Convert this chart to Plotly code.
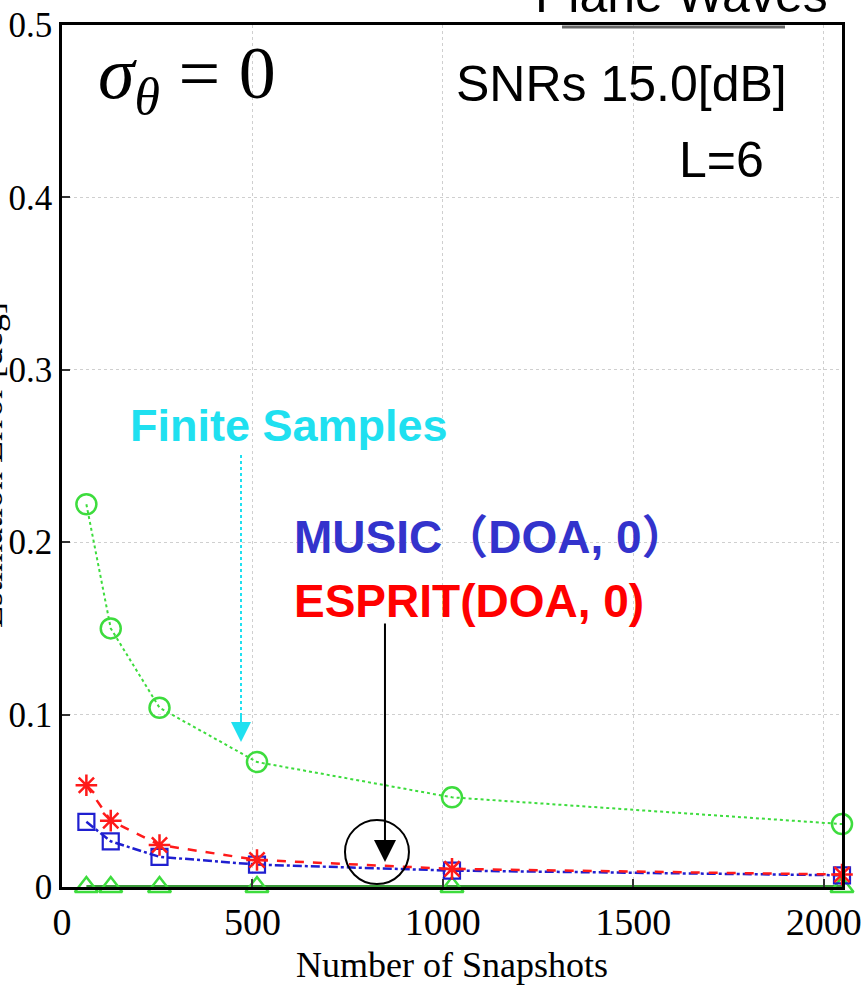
import plotly.graph_objects as go

# Number of snapshots on the x axis
snapshots = [64, 128, 256, 512, 1024, 2048]

# Estimation error per method
finite_samples = [0.222, 0.150, 0.104, 0.0725, 0.052, 0.0365]
esprit_doa = [0.059, 0.0385, 0.0244, 0.0157, 0.0105, 0.0072]
music_doa = [0.0378, 0.0265, 0.0175, 0.0130, 0.0095, 0.0068]
exact_zero = [0, 0, 0, 0, 0, 0]

x_ticks = [0, 500, 1000, 1500, 2000]
y_ticks = [0, 0.1, 0.2, 0.3, 0.4, 0.5]
y_tick_text = ["0", "0.1", "0.2", "0.3", "0.4", "0.5"]

LIME = "#3ddc3d"
BLUE = "#1f1fd0"
RED = "#ff1a1a"
CYAN = "#1fe0f0"

fig = go.Figure()

fig.add_trace(go.Scatter(
    x=snapshots, y=exact_zero, mode="lines+markers",
    line=dict(color="#3a9a3a", width=4, dash="solid"),
    marker=dict(symbol="triangle-up-open", size=20, color=LIME,
                line=dict(width=2.5, color=LIME)),
    cliponaxis=False, showlegend=False))

fig.add_trace(go.Scatter(
    x=snapshots, y=finite_samples, mode="lines+markers",
    line=dict(color=LIME, width=2, dash="dot"),
    marker=dict(symbol="circle-open", size=20, color=LIME,
                line=dict(width=2.5, color=LIME)),
    cliponaxis=False, showlegend=False))

fig.add_trace(go.Scatter(
    x=snapshots, y=music_doa, mode="lines+markers",
    line=dict(color=BLUE, width=2.5, dash="dashdot"),
    marker=dict(symbol="square-open", size=16, color=BLUE,
                line=dict(width=2.2, color=BLUE)),
    cliponaxis=False, showlegend=False))

fig.add_trace(go.Scatter(
    x=snapshots, y=esprit_doa, mode="lines+markers",
    line=dict(color=RED, width=2.5, dash="dash"),
    marker=dict(symbol="asterisk-open", size=18, color=RED,
                line=dict(width=2.5, color=RED)),
    cliponaxis=False, showlegend=False))

serif = "Liberation Serif, Times New Roman, serif"
sans = "Liberation Sans, Arial, Noto Sans CJK JP, sans-serif"

fig.update_xaxes(
    range=[0, 2048], tickvals=x_ticks, automargin=False,
    ticklabeloverflow="allow",
    showline=True, linecolor="black", linewidth=2.5, mirror=True,
    ticks="inside", ticklen=8, tickcolor="#333", tickwidth=1.5,
    showgrid=True, gridcolor="#cfcfcf", gridwidth=1.2, griddash="dot",
    zeroline=False,
    tickfont=dict(family=serif, size=38, color="black"),
    title=dict(text="Number of Snapshots", standoff=10,
               font=dict(family=serif, size=36, color="black")),
)
fig.update_yaxes(
    range=[0, 0.5], tickvals=y_ticks, ticktext=y_tick_text, automargin=False,
    ticklabeloverflow="allow",
    showline=True, linecolor="black", linewidth=2.5, mirror=True,
    ticks="inside", ticklen=8, tickcolor="#333", tickwidth=1.5,
    showgrid=True, gridcolor="#cfcfcf", gridwidth=1.2, griddash="dot",
    zeroline=False,
    tickfont=dict(family=serif, size=35, color="black"),
    ticklabelstandoff=0,
)

annotations = [
    dict(text="Plane Waves", xref="paper", yref="paper", x=0.7936, y=1.0005,
         xanchor="center", yanchor="bottom", showarrow=False,
         font=dict(family=sans, size=50, color="black")),
    dict(text="<i>σ</i><sub><i>θ</i></sub> = 0", xref="paper", yref="paper",
         x=(96 - 62) / 780, y=1 - (78 - 25) / 862,
         xanchor="left", yanchor="middle", showarrow=False,
         font=dict(family=serif, size=74, color="black")),
    dict(text="SNRs 15.0[dB]", xref="paper", yref="paper",
         x=(621 - 62) / 780, y=1 - (84 - 25) / 862,
         xanchor="center", yanchor="middle", showarrow=False,
         font=dict(family=sans, size=50, color="black")),
    dict(text="L=6", xref="paper", yref="paper",
         x=(721 - 62) / 780, y=1 - (160 - 25) / 862,
         xanchor="center", yanchor="middle", showarrow=False,
         font=dict(family=sans, size=50, color="black")),
    dict(text="<b>Finite Samples</b>", xref="paper", yref="paper",
         x=(128 - 62) / 780, y=1 - (426 - 25) / 862,
         xanchor="left", yanchor="middle", showarrow=False,
         font=dict(family=sans, size=45, color=CYAN)),
    dict(text="<b>MUSIC（DOA, 0）</b>", xref="paper", yref="paper",
         x=(292 - 62) / 780, y=1 - (537 - 25) / 862,
         xanchor="left", yanchor="middle", showarrow=False,
         font=dict(family=sans, size=46, color="#3333cc")),
    dict(text="<b>ESPRIT(DOA, 0)</b>", xref="paper", yref="paper",
         x=(292 - 62) / 780, y=1 - (601 - 25) / 862,
         xanchor="left", yanchor="middle", showarrow=False,
         font=dict(family=sans, size=46, color="#ff0000")),
    dict(text="Estimation Error [deg]", xref="paper", yref="paper",
         x=(-10 - 62) / 780, y=1 - (465 - 25) / 862,
         xanchor="center", yanchor="middle", showarrow=False, textangle=-90,
         font=dict(family=serif, size=36, color="black")),
    # black pointer into the circled region
    dict(text="", x=848, y=0.0145, xref="x", yref="y",
         ax=848, ay=0.1537, axref="x", ayref="y",
         showarrow=True, arrowhead=2, arrowsize=2.2, arrowwidth=2,
         arrowcolor="black"),
    # cyan arrowhead at the end of the dotted pointer
    dict(text="", x=470, y=0.0841, xref="x", yref="y",
         ax=470, ay=0.1, axref="x", ayref="y",
         showarrow=True, arrowhead=2, arrowsize=2, arrowwidth=2,
         arrowcolor=CYAN),
]

shapes = [
    dict(type="line", xref="x", yref="y", x0=470, x1=470, y0=0.2506, y1=0.095,
         line=dict(color=CYAN, width=2, dash="dot")),
    dict(type="circle", xref="x", yref="y", x0=743, x1=911, y0=0.0017, y1=0.0389,
         line=dict(color="black", width=2)),
    dict(type="line", xref="paper", yref="paper",
         x0=(562 - 62) / 780, x1=(785 - 62) / 780,
         y0=1 - 2 / 862, y1=1 - 2 / 862,
         line=dict(color="#666666", width=3)),
]

fig.update_layout(
    width=864, height=995,
    margin=dict(l=62, r=22, t=25, b=108),
    paper_bgcolor="white", plot_bgcolor="white",
    annotations=annotations, shapes=shapes,
    showlegend=False,
)

fig.write_html("out.html")
